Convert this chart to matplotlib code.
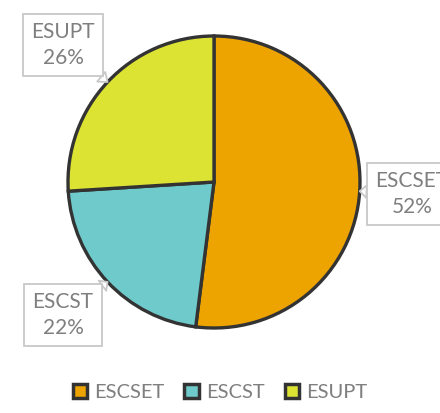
import numpy as np
import matplotlib
import matplotlib.pyplot as plt

labels = ['ESCSET', 'ESCST', 'ESUPT']
shares = [52, 22, 26]
colors = ['#EDA400', '#6FCACB', '#DDE333']

# box centres of the callouts (pixel coords, y up)
label_pos = [(412, 219), (63, 98), (63, 368)]

plt.rcParams['font.family'] = ['Lato', 'DejaVu Sans']

fig = plt.figure(figsize=(4.4, 4.13), dpi=100)
ax = fig.add_axes([0, 0, 1, 1])

cx, cy, r = 214, 231, 146
wedges, _ = ax.pie(shares, colors=colors, startangle=90, counterclock=False,
                   center=(cx, cy), radius=r,
                   wedgeprops=dict(edgecolor='#333333', linewidth=2.4))
ax.set_xlim(0, 440)
ax.set_ylim(0, 413)
ax.set_aspect('equal')
ax.axis('off')

for w, lab, val, pos in zip(wedges, labels, shares, label_pos):
    mid = np.deg2rad((w.theta1 + w.theta2) / 2)
    tip = (cx + r * np.cos(mid), cy + r * np.sin(mid))
    ax.annotate('{}\n{}%'.format(lab, val), xy=tip, xytext=pos,
                ha='center', va='center', fontsize=15, color='#7F7F7F',
                linespacing=1.35, annotation_clip=False,
                bbox=dict(boxstyle='square,pad=0.4', fc='white', ec='#C8C8C8', lw=1.3),
                arrowprops=dict(arrowstyle='wedge,tail_width=0.6,shrink_factor=0.5',
                                fc='white', ec='#C8C8C8', lw=1.3,
                                shrinkA=0, shrinkB=0))

handles = [plt.Rectangle((0, 0), 1, 1, fc=c, ec='#333333', lw=2.5) for c in colors]
fig.legend(handles, labels, loc='lower center', bbox_to_anchor=(0.5, -0.015),
           ncol=3, frameon=False, fontsize=14.5, handlelength=0.72, handleheight=0.72,
           handletextpad=0.35, columnspacing=1.0, labelcolor='#7F7F7F')

fig.savefig('out.png', dpi=100)
